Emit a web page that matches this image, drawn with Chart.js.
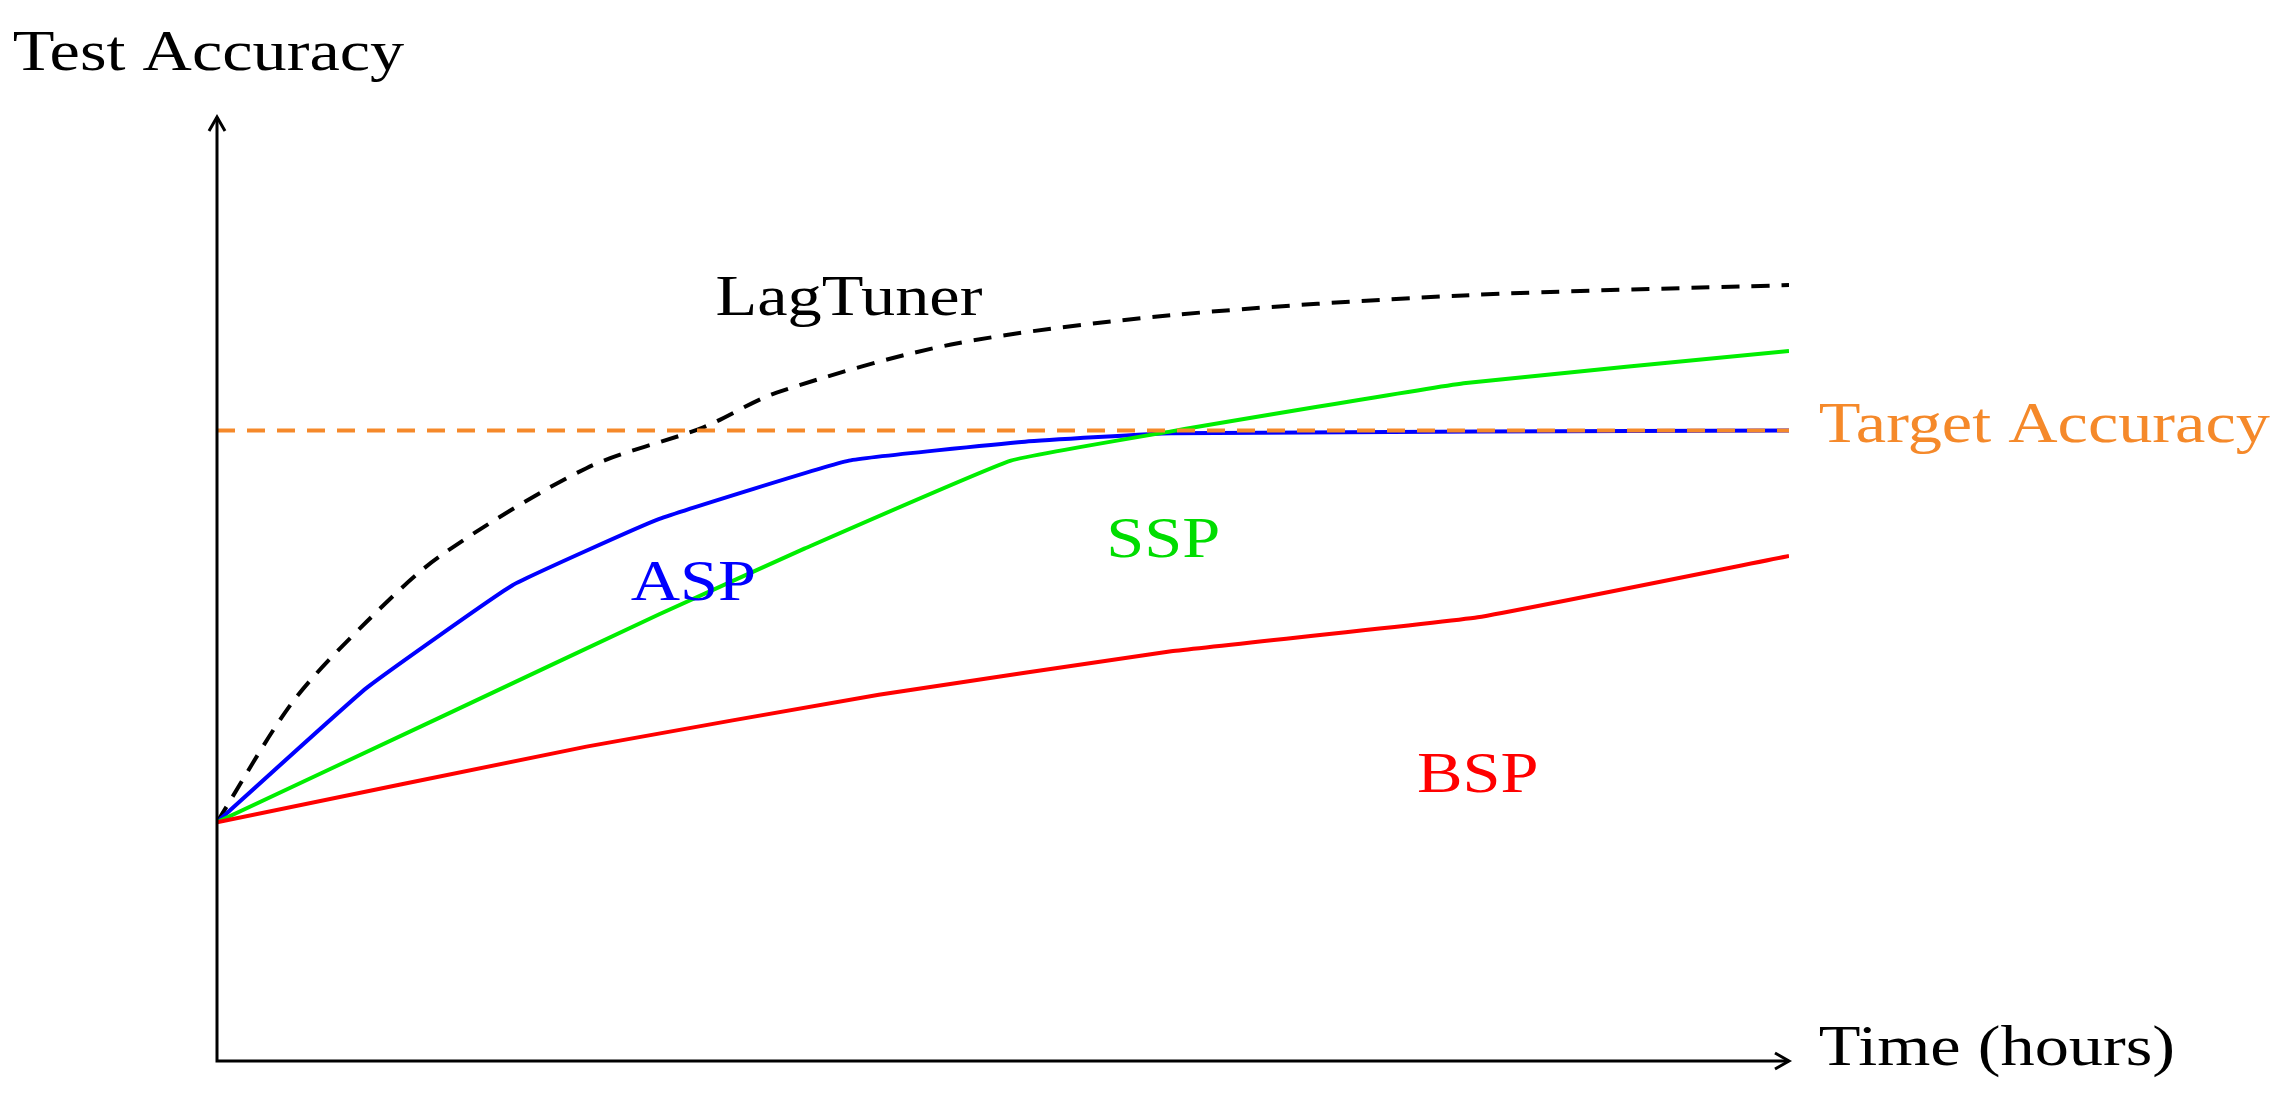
<!DOCTYPE html>
<html>
<head>
<meta charset="utf-8">
<script src="https://cdn.jsdelivr.net/npm/chart.js@4"></script>
<style>
	html, body { margin: 0; padding: 0; background: #fff; }
	canvas { display: block; }
</style>
</head>
<body>
<canvas id="chart" width="2296" height="1118"></canvas>
<script>
// Data (time 0..10, accuracy 0..100, both unitless)
const lagTunerX = [0, 0.48, 0.95, 1.42, 2.35, 3.09, 3.56, 4.67, 6.07, 7.93, 10];
const lagTunerY = [25.3, 38.0, 46.5, 53.5, 62.8, 67.1, 70.8, 75.9, 79.0, 81.1, 82.2];
const aspX = [0, 0.95, 1.88, 2.81, 4.02, 5.14, 6.07, 10];
const aspY = [25.3, 39.5, 50.4, 57.4, 63.6, 65.6, 66.5, 66.8];
const sspX = [0, 1.42, 2.81, 3.74, 5.05, 6.07, 7.93, 10];
const sspY = [25.3, 36.4, 47.3, 54.3, 63.6, 66.7, 71.8, 75.2];
const bspX = [0, 2.35, 4.21, 6.07, 8.02, 10];
const bspY = [25.3, 33.3, 38.8, 43.4, 47.0, 53.5];
const targetX = [0, 10];
const targetY = [66.8, 66.8];

// Text annotations [text, x, y, color, align]
const notes = [
	["LagTuner", 4.02, 80.6, "#000000", "center"],
	["ASP", 3.03, 50.4, "#0000ff", "center"],
	["SSP", 6.02, 55.0, "#00dd00", "center"],
	["BSP", 8.02, 30.1, "#ff0000", "center"],
	["Target Accuracy", 10.19, 67.1, "#f5892a", "left"],
	["Test Accuracy", -1.3, 106.5, "#000000", "left"],
	["Time (hours)", 10.19, 1.1, "#000000", "left"],
];

const pts = (xs, ys) => xs.map((x, i) => ({ x, y: ys[i] }));

function line(label, xs, ys, color, dash, width, tension) {
	return {
		label,
		data: pts(xs, ys),
		borderColor: color,
		borderWidth: width,
		borderDash: dash,
		pointRadius: 0,
		tension,
		fill: false,
	};
}

// Draws arrowed axes and the text labels
const decor = {
	id: "decor",
	afterDatasetsDraw(chart) {
		const { ctx, chartArea: a, scales } = chart;
		ctx.save();
		ctx.strokeStyle = "#000";
		ctx.lineWidth = 3;
		ctx.beginPath();
		ctx.moveTo(a.left, a.top);
		ctx.lineTo(a.left, a.bottom);
		ctx.lineTo(a.right, a.bottom);
		ctx.stroke();
		ctx.beginPath();
		ctx.moveTo(a.left - 8, a.top + 14);
		ctx.lineTo(a.left, a.top);
		ctx.lineTo(a.left + 8, a.top + 14);
		ctx.moveTo(a.right - 14, a.bottom - 8);
		ctx.lineTo(a.right, a.bottom);
		ctx.lineTo(a.right - 14, a.bottom + 8);
		ctx.stroke();

		// text in the reference is stretched sideways
		ctx.font = "56px 'Liberation Serif', serif";
		ctx.textBaseline = "middle";
		const sx = 1.22;
		notes.forEach(([text, x, y, color, align]) => {
			ctx.save();
			ctx.fillStyle = color;
			ctx.textAlign = align;
			ctx.translate(scales.x.getPixelForValue(x), scales.y.getPixelForValue(y));
			ctx.scale(sx, 1);
			ctx.fillText(text, 0, 0);
			ctx.restore();
		});
		ctx.restore();
	},
};

new Chart(document.getElementById("chart"), {
	type: "line",
	data: {
		datasets: [
			line("Target", targetX, targetY, "#f5892a", [18, 12], 4, 0),
			line("BSP", bspX, bspY, "#ff0000", [], 4, 0.1),
			line("SSP", sspX, sspY, "#00ee00", [], 4, 0.1),
			line("ASP", aspX, aspY, "#0000ff", [], 4, 0.1),
			line("LagTuner", lagTunerX, lagTunerY, "#000000", [18, 12], 4, 0.3),
		],
	},
	options: {
		responsive: false,
		devicePixelRatio: 1,
		animation: false,
		layout: { padding: { left: 217, right: 507, top: 117, bottom: 57 } },
		plugins: { legend: { display: false }, tooltip: { enabled: false } },
		scales: {
			x: { type: "linear", min: 0, max: 10, display: false },
			y: { min: 0, max: 100, display: false },
		},
	},
	plugins: [decor],
});
</script>
</body>
</html>
